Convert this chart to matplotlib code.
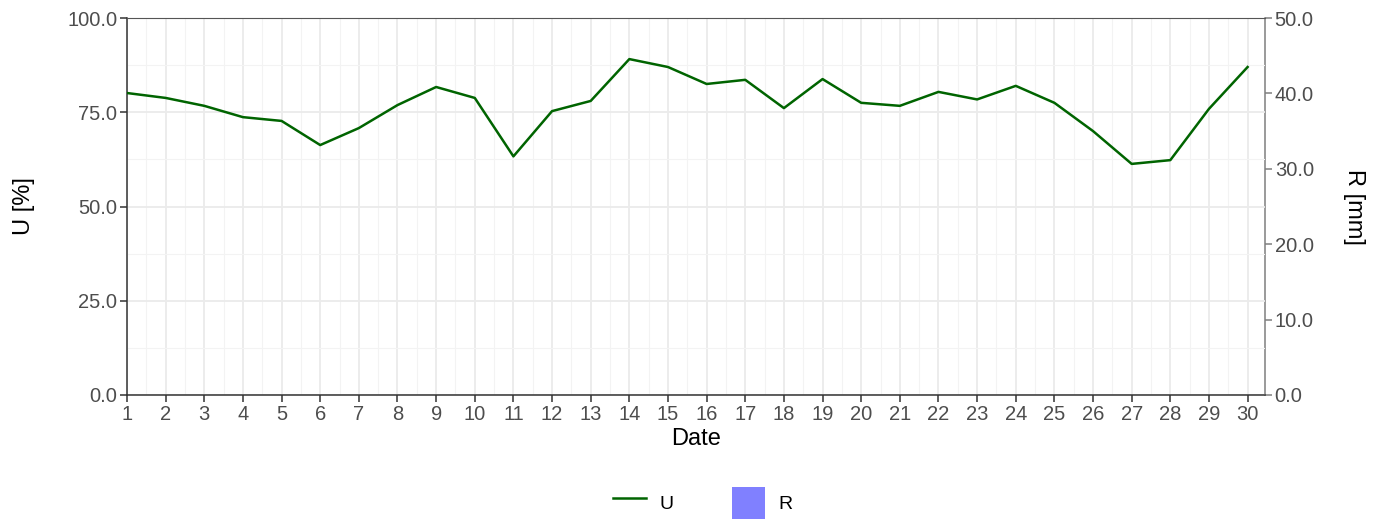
import matplotlib
matplotlib.use("Agg")
import matplotlib.pyplot as plt
from matplotlib.lines import Line2D
from matplotlib.patches import Patch
from matplotlib.ticker import MultipleLocator

plt.rcParams["font.family"] = ["Liberation Sans", "DejaVu Sans"]

days = list(range(1, 31))
humidity = [80.1, 78.8, 76.7, 73.7, 72.7, 66.3, 70.8, 76.9, 81.7, 78.8,
            63.3, 75.3, 78.0, 89.1, 87.0, 82.5, 83.6, 76.1, 83.8, 77.5,
            76.7, 80.4, 78.4, 82.0, 77.5, 70.0, 61.3, 62.3, 75.9, 87.0]
rain = [0.0] * 30

line_color = "#006400"
bar_color = "#8080FF"
tick_color = "#4D4D4D"
grid_color = "#EBEBEB"

fig = plt.figure(figsize=(13.86, 5.19), dpi=100)
ax = fig.add_axes([127 / 1386, 1 - 395 / 519, (1265 - 127) / 1386, (395 - 18) / 519])
ax2 = ax.twinx()

ax2.bar(days, rain, width=0.8, color=bar_color)
ax.plot(days, humidity, color=line_color, linewidth=1.8, zorder=3)

ax.set_zorder(ax2.get_zorder() + 1)
ax.patch.set_visible(False)

ax.set_xlim(1, 30.45)
ax.set_ylim(0, 100)
ax2.set_ylim(0, 50)

ax.set_xticks(days)
ax.xaxis.set_minor_locator(MultipleLocator(0.5))
ax.set_yticks([0, 25, 50, 75, 100])
ax.set_yticklabels([f"{v:.1f}" for v in [0, 25, 50, 75, 100]])
ax.yaxis.set_minor_locator(MultipleLocator(12.5))
ax2.set_yticks([0, 10, 20, 30, 40, 50])
ax2.set_yticklabels([f"{v:.1f}" for v in [0, 10, 20, 30, 40, 50]])

ax.grid(which="major", color=grid_color, linewidth=1.3)
ax.grid(which="minor", color="#F3F3F3", linewidth=0.8)
ax.set_axisbelow(True)

for a in (ax, ax2):
    a.tick_params(which="major", length=5, width=1.1, colors="#333333",
                  labelcolor=tick_color, labelsize=14.5, pad=2)
    a.tick_params(which="minor", length=0)
ax2.tick_params(axis="y", colors="#7F7F7F", labelcolor=tick_color)

for s in ("left", "bottom"):
    ax.spines[s].set_color("#333333")
    ax.spines[s].set_linewidth(1.1)
ax.spines["top"].set_color("#555555")
ax.spines["top"].set_linewidth(0.8)
ax.spines["right"].set_visible(False)
for s in ("left", "bottom", "top"):
    ax2.spines[s].set_visible(False)
ax2.spines["right"].set_color("#7F7F7F")
ax2.spines["right"].set_linewidth(1.1)

ax.set_xlabel("Date", fontsize=17, labelpad=3)
ax.set_ylabel("U [%]", fontsize=17, labelpad=23)
ax2.set_ylabel("R [mm]", fontsize=17, rotation=270, labelpad=37)

handles = [Line2D([0], [0], color=line_color, linewidth=1.8),
           Patch(facecolor=bar_color, edgecolor="none")]
fig.legend(handles, ["U", "R"], loc="center", ncol=2, frameon=False,
           fontsize=14, bbox_to_anchor=(703 / 1386, 1 - 503 / 519), handlelength=1.7,
           handleheight=2.2, columnspacing=3.0, handletextpad=0.7)

fig.savefig("out.png", dpi=100)
